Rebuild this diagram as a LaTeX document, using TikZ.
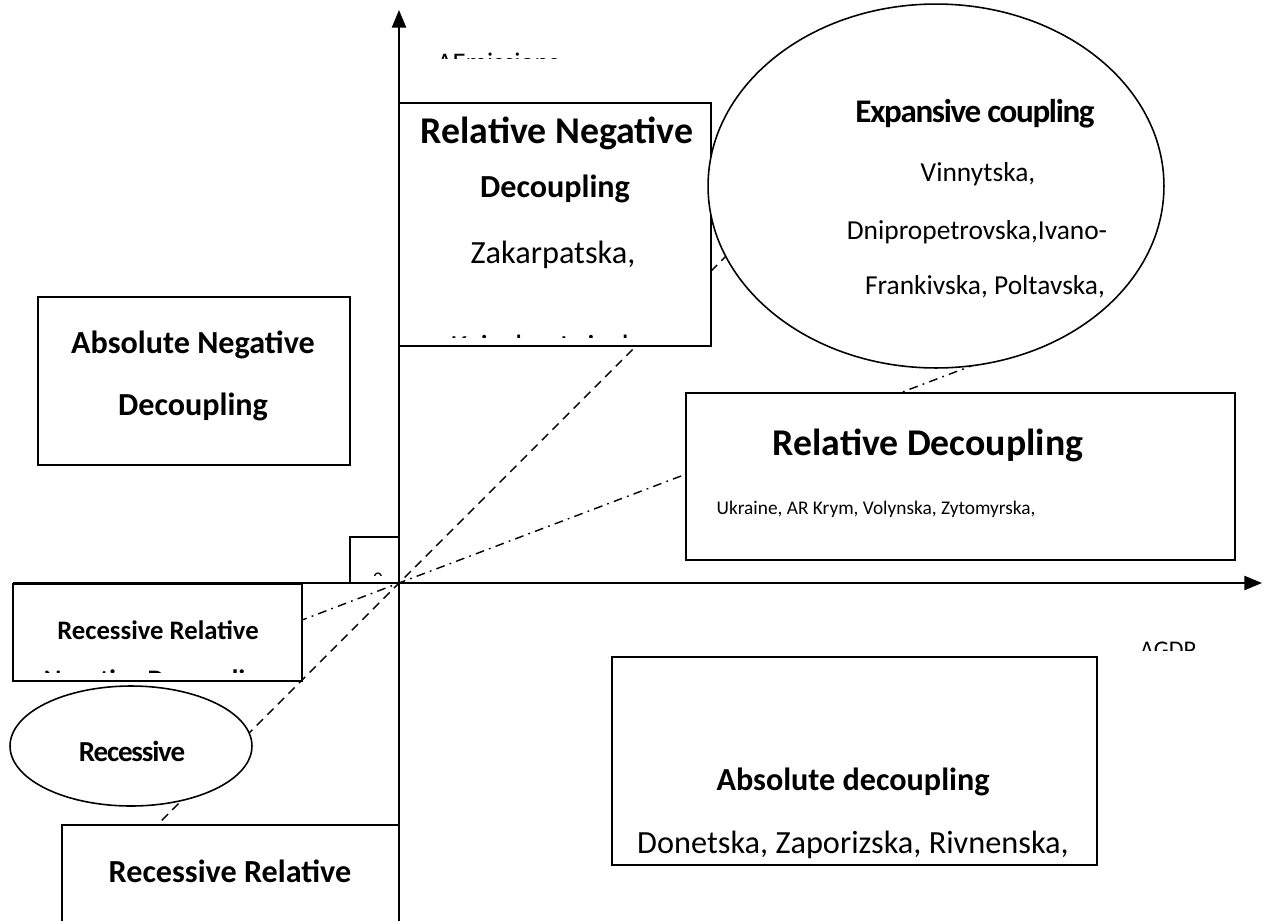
\documentclass[tikz,border=0pt]{standalone}
\usepackage{fontspec}
\setmainfont{Carlito}
\usetikzlibrary{arrows.meta}

\tikzset{
	frame/.style={line width=0.9pt, fill=white},
	axis/.style={line width=1.2pt, -{Triangle[length=10pt,width=8pt]}},
	dashln/.style={line width=0.8pt, dash pattern=on 5pt off 3.5pt},
	dashdotln/.style={line width=0.8pt, dash pattern=on 5pt off 3pt on 1pt off 3pt},
	head/.style={anchor=base, inner sep=0pt, font=\bfseries\fontsize{18.3}{22}\selectfont},
	bighead/.style={anchor=base, inner sep=0pt, font=\bfseries\fontsize{21.5}{25}\selectfont},
	txt/.style={anchor=base, inner sep=0pt, font=\fontsize{18.4}{22}\selectfont},
	smalltxt/.style={anchor=base, inner sep=0pt, font=\fontsize{11}{13}\selectfont},
	smallhead/.style={anchor=base, inner sep=0pt, font=\bfseries\fontsize{15.2}{18}\selectfont},
	ellhead/.style={anchor=base, inner sep=0pt, font=\bfseries\fontsize{18.8}{22}\selectfont\addfontfeature{LetterSpace=-4}},
	elltxt/.style={anchor=base, inner sep=0pt, font=\fontsize{15.6}{19}\selectfont},
	axlabel/.style={anchor=base west, inner sep=0pt}
}

\begin{document}
\begin{tikzpicture}[x=0.02cm, y=-0.02cm]
	\useasboundingbox (0,0) rectangle (1271,920);
	
	%origin and ends of the two lines through it
	\coordinate (O) at (399,583);
	\coordinate (dashLow) at (130,852);		%inside lower recessive box
	\coordinate (dashHigh) at (780,202);	%inside expansive ellipse
	\coordinate (ddLow) at (200,659);		%inside upper recessive box
	\coordinate (ddHigh) at (1000,355);		%inside expansive ellipse
	
	%lines
	\draw[dashln] (dashLow) -- (O) -- (dashHigh);
	\draw[dashdotln] (ddLow) -- (O) -- (ddHigh);
	
	%boxes
	\draw[frame] (399,103) rectangle (711,346);		%relative negative
	\draw[frame] (38,297) rectangle (350,465);		%absolute negative
	\draw[frame] (686,393) rectangle (1235,560);	%relative
	\draw[frame] (13,584) rectangle (302,681);		%recessive relative (upper)
	\draw[frame] (62,825) rectangle (399,930);		%recessive relative (lower)
	\draw[frame] (612,657) rectangle (1097,865);	%absolute
	\draw[line width=0.9pt] (350,537) rectangle (399,583);	%small square
	
	%ellipses
	\draw[frame] (936,186) ellipse [x radius=4.56cm, y radius=3.64cm];	%expansive coupling
	\draw[frame] (131,746) ellipse [x radius=2.42cm, y radius=1.2cm];	%recessive
	
	%axes
	\draw[axis] (13,583) -- (1262,583);
	\draw[axis] (399,925) -- (399,10);
	
	%labels
	\node[bighead] (relNegA) at (557,143) {Relative Negative};
	\node[head] (relNegB) at (555,197) {Decoupling};
	\node[txt] (relNegC) at (553,263) {Zakarpatska,};
	\begin{scope}
		\clip (399,103) rectangle (711,337);
		\node[txt] (relNegD) at (555,357) {Kyivska, Lvivska,};
	\end{scope}
	
	\node[head] (absNegA) at (193,353) {Absolute Negative};
	\node[head] (absNegB) at (193,415) {Decoupling};
	
	\node[ellhead] (expA) at (975,122) {Expansive coupling};
	\node[elltxt] (expB) at (978,181) {Vinnytska,};
	\node[elltxt] (expC) at (977,239) {Dnipropetrovska,Ivano-};
	\node[elltxt] (expD) at (985,294) {Frankivska, Poltavska,};
	
	\node[bighead] (relA) at (928,455) {Relative Decoupling};
	\node[smalltxt] (relB) at (876,514) {Ukraine, AR Krym, Volynska, Zytomyrska,};
	
	\node[smallhead] (recRelA) at (158,639) {Recessive Relative};
	\begin{scope}
		\clip (13,584) rectangle (302,672);
		\node[smallhead] (recRelB) at (158,688) {Negative Decoupling};
	\end{scope}
	
	\node[ellhead, font=\bfseries\fontsize{16.5}{20}\selectfont\addfontfeature{LetterSpace=-4}] (recA) at (132,761) {Recessive};
	\node[head] (recLowA) at (230,882) {Recessive Relative};
	
	\node[head] (absA) at (853,790) {Absolute decoupling};
	\node[txt] (absB) at (853,853) {Donetska, Zaporizska, Rivnenska,};
	
	%axis labels, cut off
	\begin{scope}
		\clip (420,40) rectangle (600,58);
		\node[axlabel, font=\fontsize{15.3}{18}\selectfont] (yLab) at (437,71) {ΔEmissions};
	\end{scope}
	\begin{scope}
		\clip (1120,630) rectangle (1220,650);
		\node[axlabel, font=\fontsize{13.6}{16}\selectfont] (xLab) at (1140,657) {ΔGDP};
	\end{scope}
	\begin{scope}
		\clip (352,560) rectangle (397,575);
		\node[smalltxt] (zero) at (378,585) {0};
	\end{scope}
\end{tikzpicture}
\end{document}
